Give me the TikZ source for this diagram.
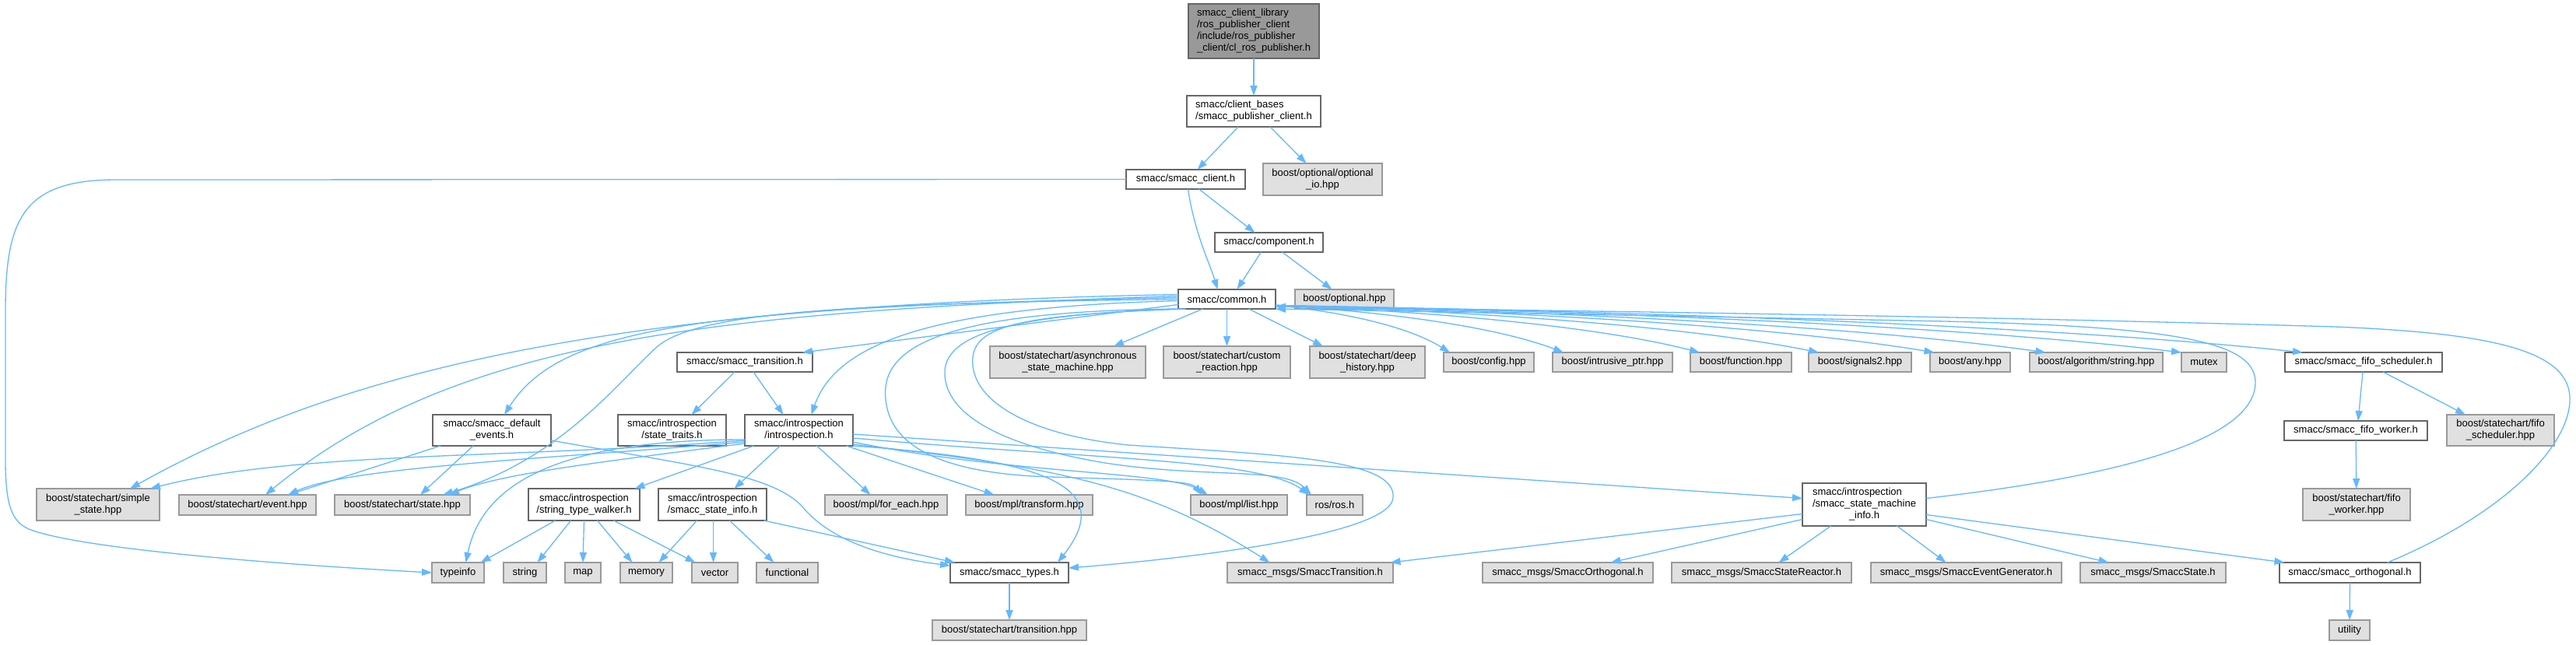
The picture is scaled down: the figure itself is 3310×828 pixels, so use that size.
\documentclass[tikz,border=0pt]{standalone}
\usepackage{fontspec}
\setmainfont{Liberation Sans}
\usetikzlibrary{arrows.meta}
\definecolor{edgeblue}{HTML}{63B8FF}
\definecolor{boxdark}{HTML}{666666}
\definecolor{boxlight}{HTML}{999999}
\definecolor{boxfill}{HTML}{E0E0E0}
\definecolor{rootfill}{HTML}{999999}
\tikzset{
  every node/.style={font=\fontsize{13}{15}\selectfont, inner sep=0pt, outer sep=0pt, rectangle, line width=1.5pt},
  wbox/.style={draw=boxdark, fill=white},
  gbox/.style={draw=boxlight, fill=boxfill},
  rbox/.style={draw=boxdark, fill=rootfill},
  lnk/.style={draw=edgeblue, line width=1.3pt, -{Triangle[length=13pt,width=9pt]}}
}
\newcommand{\bx}[6]{\node[#1, minimum width=#4pt, minimum height=#5pt] (#2) at (#3) {#6};}
\begin{document}
\begin{tikzpicture}[x=1pt,y=-1pt]
\useasboundingbox (0,0) rectangle (3310,828);
% nodes
\bx{rbox,align=left}{root}{1611,40}{168}{70}{smacc\_client\_library\\/ros\_publisher\_client\\/include/ros\_publisher\\\_client/cl\_ros\_publisher.h}
\bx{wbox,align=left}{cb}{1611,143}{172}{40}{smacc/client\_bases\\/smacc\_publisher\_client.h}
\bx{wbox}{sc}{1523.5,230.5}{153}{25}{smacc/smacc\_client.h}
\bx{gbox,align=center}{oio}{1699.5,230.5}{153}{41}{boost/optional/optional\\\_io.hpp}
\bx{wbox}{comp}{1630.5,311.5}{139}{25}{smacc/component.h}
\bx{wbox}{common}{1576.5,384.5}{125}{25}{smacc/common.h}
\bx{gbox}{opt}{1727.5,384.5}{127}{25}{boost/optional.hpp}
% row 5
\bx{wbox}{trans}{957,465.5}{174}{25}{smacc/smacc\_transition.h}
\bx{gbox,align=center}{async}{1372,465.5}{200}{41}{boost/statechart/asynchronous\\\_state\_machine.hpp}
\bx{gbox,align=center}{custom}{1576.5,465.5}{163}{41}{boost/statechart/custom\\\_reaction.hpp}
\bx{gbox,align=center}{deep}{1757,465.5}{148}{41}{boost/statechart/deep\\\_history.hpp}
\bx{gbox}{config}{1913,465.5}{116}{25}{boost/config.hpp}
\bx{gbox}{intr}{2072,465.5}{154}{25}{boost/intrusive\_ptr.hpp}
\bx{gbox}{func}{2237,465.5}{130}{25}{boost/function.hpp}
\bx{gbox}{sig}{2390,465.5}{132}{25}{boost/signals2.hpp}
\bx{gbox}{any}{2531.5,465.5}{103}{25}{boost/any.hpp}
\bx{gbox}{algo}{2693.5,465.5}{171}{25}{boost/algorithm/string.hpp}
\bx{gbox}{mutex}{2832,465.5}{58}{25}{mutex}
\bx{wbox}{fifos}{3037,465.5}{202}{25}{smacc/smacc\_fifo\_scheduler.h}
% row 6
\bx{wbox,align=center}{defev}{632,553}{152}{40}{smacc/smacc\_default\\\_events.h}
\bx{wbox,align=center}{traits}{863.5,553}{139}{40}{smacc/introspection\\/state\_traits.h}
\bx{wbox,align=center}{intro}{1026.5,553}{139}{40}{smacc/introspection\\/introspection.h}
\bx{wbox}{fifow}{3027,553.5}{184}{25}{smacc/smacc\_fifo\_worker.h}
\bx{gbox,align=center}{fifosh}{3213,553}{138}{40}{boost/statechart/fifo\\\_scheduler.hpp}
% row 7
\bx{gbox,align=center}{simple}{126,648.5}{158}{41}{boost/statechart/simple\\\_state.hpp}
\bx{gbox}{event}{318,649}{176}{26}{boost/statechart/event.hpp}
\bx{gbox}{state}{517,649}{174}{26}{boost/statechart/state.hpp}
\bx{wbox,align=center}{stw}{750.5,648.5}{143}{41}{smacc/introspection\\/string\_type\_walker.h}
\bx{wbox,align=center}{ssi}{915.5,648.5}{139}{41}{smacc/introspection\\/smacc\_state\_info.h}
\bx{gbox}{foreach}{1138.5,649}{157}{26}{boost/mpl/for\_each.hpp}
\bx{gbox}{transform}{1322.5,649}{163}{26}{boost/mpl/transform.hpp}
\bx{gbox}{list}{1592,649}{124}{26}{boost/mpl/list.hpp}
\bx{gbox}{ros}{1715,649}{72}{26}{ros/ros.h}
\bx{wbox}{smi}{2395.5,648.5}{159}{55}{\begin{tabular}{@{}l@{}}smacc/introspection\\/smacc\_state\_machine\\\multicolumn{1}{@{}c@{}}{\_info.h}\end{tabular}}
\bx{gbox,align=center}{fifowh}{3028,648.5}{138}{41}{boost/statechart/fifo\\\_worker.hpp}
% row 8
\bx{gbox}{typeinfo}{588.5,736}{67}{26}{typeinfo}
\bx{gbox}{string}{674.5,736}{55}{26}{string}
\bx{gbox}{map}{749,736}{46}{26}{map}
\bx{gbox}{memory}{830.5,736}{67}{26}{memory}
\bx{gbox}{vector}{918.5,736}{59}{26}{vector}
\bx{gbox}{functional}{1011.5,736}{79}{26}{functional}
\bx{wbox}{types}{1297,736}{152}{26}{smacc/smacc\_types.h}
\bx{gbox}{smtrans}{1683.5,736}{213}{26}{smacc\_msgs/SmaccTransition.h}
\bx{gbox}{smorth}{2014.5,736}{219}{26}{smacc\_msgs/SmaccOrthogonal.h}
\bx{gbox}{smreact}{2263.5,736}{231}{26}{smacc\_msgs/SmaccStateReactor.h}
\bx{gbox}{smevgen}{2526.5,736}{245}{26}{smacc\_msgs/SmaccEventGenerator.h}
\bx{gbox}{smstate}{2766.5,736}{187}{26}{smacc\_msgs/SmaccState.h}
\bx{wbox}{orth}{3019.5,736}{181}{26}{smacc/smacc\_orthogonal.h}
% row 9
\bx{gbox}{transhpp}{1297,810}{198}{26}{boost/statechart/transition.hpp}
\bx{gbox}{utility}{3019,810}{52}{26}{utility}
% edges top
\draw[lnk] (root) -- (cb);
\draw[lnk] ([xshift=-20pt]cb.south) -- ([xshift=15pt]sc.north);
\draw[lnk] ([xshift=21pt]cb.south) -- ([xshift=-21pt]oio.north);
\draw[lnk] ([xshift=3pt]sc.south) .. controls (1535,300) and (1555,340) .. ([xshift=-12pt]common.north);
\draw[lnk] ([xshift=17pt]sc.south) -- ([xshift=-18pt]comp.north);
\draw[lnk] (sc.west) -- (150,231) .. controls (30,231) and (7,280) .. (7,400) -- (7,590) .. controls (7,650) and (15,670) .. (37,680) .. controls (100,705) and (350,725) .. (typeinfo.west);
\draw[lnk] ([xshift=-10pt]comp.south) -- ([xshift=13pt]common.north);
\draw[lnk] ([xshift=17pt]comp.south) -- ([xshift=-16pt]opt.north);
% common to the left
\draw[lnk] ([yshift=-7pt]common.west) -- ([xshift=74pt]trans.north);
\draw[lnk] ([yshift=-2pt]common.west) .. controls (1200,395) and (1075,440) .. ([xshift=16pt]intro.north);
\draw[lnk] ([yshift=2pt]common.west) .. controls (900,395) and (720,420) .. ([xshift=16pt]defev.north);
\draw[lnk] ([yshift=6pt]common.west) .. controls (800,392) and (450,470) .. ([xshift=41pt]simple.north);
\draw[lnk] ([yshift=4pt]common.west) .. controls (900,400) and (580,440) .. ([xshift=23pt]event.north);
\draw[lnk] (common.west) .. controls (1100,390) and (900,400) .. (845,445) .. controls (790,495) and (720,590) .. ([xshift=52pt]state.north);
% common down-left curves
\draw[lnk] (common.south west) .. controls (1170,400) and (1125,460) .. (1140,525) .. controls (1155,590) and (1250,610) .. (1350,613) .. controls (1480,617) and (1530,618) .. ([xshift=-48pt]list.north);
\draw[lnk] ([xshift=5pt]common.south west) .. controls (1260,405) and (1205,440) .. (1215,490) .. controls (1225,540) and (1300,575) .. (1420,595) .. controls (1550,615) and (1650,600) .. ([xshift=-30pt]ros.north);
\draw[lnk] ([xshift=10pt]common.south west) .. controls (1300,405) and (1245,420) .. (1250,470) .. controls (1255,520) and (1330,560) .. (1450,572) .. controls (1650,585) and (1795,590) .. (1790,640) .. controls (1785,690) and (1500,720) .. ([yshift=6pt]types.east);
% common down
\draw[lnk] ([xshift=-31pt]common.south) -- ([xshift=59pt]async.north);
\draw[lnk] (common.south) -- (custom.north);
\draw[lnk] ([xshift=28pt]common.south) -- ([xshift=-57pt]deep.north);
% common to the right
\draw[lnk] ([yshift=-8pt]common.east) .. controls (1718,400) and (1807,418) .. ([xshift=-50pt]config.north);
\draw[lnk] ([yshift=-8pt]common.east) .. controls (1769,400) and (1917,418) .. ([xshift=-63pt]intr.north);
\draw[lnk] ([yshift=-8pt]common.east) .. controls (1830,400) and (2048,418) .. ([xshift=-53pt]func.north);
\draw[lnk] ([yshift=-8pt]common.east) .. controls (1884,400) and (2163,418) .. ([xshift=-53pt]sig.north);
\draw[lnk] ([yshift=-8pt]common.east) .. controls (1936,400) and (2274,418) .. ([xshift=-46pt]any.north);
\draw[lnk] ([yshift=-8pt]common.east) .. controls (1986,400) and (2381,418) .. ([xshift=-65pt]algo.north);
\draw[lnk] ([yshift=-8pt]common.east) .. controls (2047,400) and (2512,418) .. ([xshift=-29pt]mutex.north);
\draw[lnk] ([yshift=-8pt]common.east) .. controls (2102,400) and (2629,418) .. ([xshift=-78pt]fifos.north);
% back to common
\draw[lnk] ([yshift=8pt]smi.east) .. controls (2700,615) and (2900,570) .. (2898,490) .. controls (2896,440) and (2800,420) .. (2500,413) .. controls (2100,405) and (1800,400) .. (common.south east);
\draw[lnk] ([xshift=48pt]orth.north) .. controls (3220,660) and (3305,570) .. (3302,510) .. controls (3299,450) and (3200,428) .. (3000,420) .. controls (2500,405) and (1900,398) .. ([yshift=3pt]common.south east);
% transition
\draw[lnk] ([xshift=-13pt]trans.south) -- ([xshift=25pt]traits.north);
\draw[lnk] ([xshift=11pt]trans.south) -- ([xshift=-20pt]intro.north);
% introspection
\draw[lnk] ([yshift=-5pt]intro.east) -- ([yshift=8pt]smi.west);
\draw[lnk] ([yshift=-15pt]intro.east) .. controls (1300,610) and (1500,605) .. ([xshift=-40pt]list.north);
\draw[lnk] ([yshift=-10pt]intro.east) .. controls (1400,590) and (1620,590) .. ([xshift=-33pt]ros.north);
\draw[lnk] ([yshift=-18pt]intro.east) .. controls (1350,600) and (1470,620) .. ([xshift=-52pt]smtrans.north);
\draw[lnk] (intro.south east) .. controls (1330,590) and (1440,620) .. ([xshift=62pt]types.north);
\draw[lnk] ([xshift=23pt]intro.south) -- ([xshift=-20pt]foreach.north);
\draw[lnk] ([xshift=61pt]intro.south) -- ([xshift=-45pt]transform.north);
\draw[lnk] ([xshift=-24pt]intro.south) -- ([xshift=28pt]ssi.north);
\draw[lnk] ([xshift=-58pt]intro.south) -- ([xshift=65pt]stw.north);
\draw[lnk] ([yshift=-12pt]intro.west) .. controls (720,565) and (620,620) .. ([xshift=10pt]typeinfo.north);
\draw[lnk] ([yshift=-13pt]intro.west) .. controls (650,590) and (380,580) .. ([xshift=67pt]simple.north);
\draw[lnk] ([yshift=-15pt]intro.west) .. controls (700,590) and (450,600) .. ([xshift=52pt]event.north);
\draw[lnk] ([yshift=-17pt]intro.west) .. controls (760,595) and (640,610) .. ([xshift=60pt]state.north);
% default events
\draw[lnk] ([xshift=-66pt]defev.south) -- ([xshift=52pt]event.north);
\draw[lnk] ([xshift=-24pt]defev.south) -- ([xshift=23pt]state.north);
\draw[lnk] ([yshift=-13pt]defev.east) .. controls (900,600) and (990,610) .. (1030,650) .. controls (1070,700) and (1150,718) .. ([yshift=9pt]types.west);
% state info
\draw[lnk] ([xshift=-20pt]ssi.south) -- ([xshift=16pt]memory.north);
\draw[lnk] ([xshift=1pt]ssi.south) -- ([xshift=-2pt]vector.north);
\draw[lnk] ([xshift=22pt]ssi.south) -- ([xshift=-17pt]functional.north);
\draw[lnk] ([xshift=66pt]ssi.south) -- ([xshift=-70pt]types.north);
% string type walker
\draw[lnk] ([xshift=-37pt]stw.south) -- ([xshift=29pt]typeinfo.north);
\draw[lnk] ([xshift=-17pt]stw.south) -- ([xshift=16pt]string.north);
\draw[lnk] (stw.south) -- (map.north);
\draw[lnk] ([xshift=17pt]stw.south) -- ([xshift=-18pt]memory.north);
\draw[lnk] ([xshift=38pt]stw.south) -- ([xshift=-25pt]vector.north);
% types
\draw[lnk] (types) -- (transhpp);
% fifo
\draw[lnk] ([xshift=-1pt]fifos.south) -- ([xshift=3pt]fifow.north);
\draw[lnk] ([xshift=25pt]fifos.south) -- ([xshift=-45pt]fifosh.north);
\draw[lnk] (fifow) -- (fifowh);
% state machine info
\draw[lnk] ([yshift=-12pt]smi.west) -- ([xshift=103pt]smtrans.north);
\draw[lnk] ([yshift=-19pt]smi.west) -- ([xshift=55pt]smorth.north);
\draw[lnk] ([xshift=-43pt]smi.south) -- ([xshift=22pt]smreact.north);
\draw[lnk] ([xshift=42pt]smi.south) -- ([xshift=-26pt]smevgen.north);
\draw[lnk] ([yshift=-19pt]smi.east) -- ([xshift=-57pt]smstate.north);
\draw[lnk] ([yshift=-13pt]smi.east) -- ([xshift=-84pt]orth.north);
\draw[lnk] (orth) -- (utility);
\end{tikzpicture}
\end{document}
